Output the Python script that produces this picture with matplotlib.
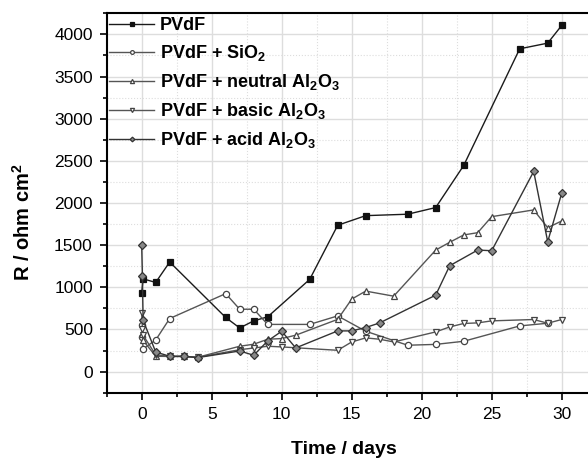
import numpy as np
import matplotlib
matplotlib.use("Agg")
import matplotlib.pyplot as plt
from matplotlib.ticker import MultipleLocator

plt.rcParams['font.family'] = ['Liberation Sans', 'DejaVu Sans']
plt.rcParams['mathtext.fontset'] = 'custom'
plt.rcParams['mathtext.rm'] = 'Liberation Sans'
plt.rcParams['mathtext.bf'] = 'Liberation Sans:bold'

# data (time in days, R in ohm cm^2)
pvdf_t = [0, 0.1, 1, 2, 6, 7, 8, 9, 12, 14, 16, 19, 21, 23, 27, 29, 30]
pvdf_r = [935, 1100, 1058, 1300, 642, 518, 602, 650, 1094, 1736, 1850, 1867, 1946, 2445, 3829, 3896, 4106]

sio2_t = [0, 0.05, 0.1, 1, 2, 6, 7, 8, 9, 12, 14, 16, 19, 21, 23, 27, 29]
sio2_r = [550, 410, 270, 375, 630, 925, 740, 740, 560, 560, 661, 479, 313, 323, 360, 542, 574]

neutral_t = [0, 0.1, 1, 2, 3, 4, 7, 8, 9, 10, 11, 14, 15, 16, 18, 21, 22, 23, 24, 25, 28, 29, 30]
neutral_r = [450, 370, 182, 180, 180, 170, 301, 325, 384, 392, 432, 620, 860, 955, 895, 1442, 1534,
             1621, 1648, 1838, 1918, 1707, 1787]

basic_t = [0, 0.05, 0.1, 1, 2, 3, 4, 7, 8, 9, 10, 14, 15, 16, 17, 18, 21, 22, 23, 24, 25, 28, 29, 30]
basic_r = [700, 510, 430, 200, 180, 180, 170, 260, 280, 301, 293, 253, 352, 400, 384, 352, 471, 530,
           571, 578, 602, 618, 574, 618]

acid_t = [0, 0.05, 0.1, 1, 2, 3, 4, 7, 8, 9, 10, 11, 14, 15, 16, 17, 21, 22, 24, 25, 28, 29, 30]
acid_r = [1500, 1130, 610, 233, 182, 182, 166, 245, 194, 364, 479, 281, 483, 483, 523, 578, 907, 1256,
          1442, 1434, 2374, 1541, 2116]

labels = ["PVdF",
          r"PVdF + SiO$_\mathbf{2}$",
          r"PVdF + neutral Al$_\mathbf{2}$O$_\mathbf{3}$",
          r"PVdF + basic Al$_\mathbf{2}$O$_\mathbf{3}$",
          r"PVdF + acid Al$_\mathbf{2}$O$_\mathbf{3}$"]

fig = plt.figure(figsize=(5.88, 4.63), dpi=100)
ax = fig.add_axes([106.7 / 588, 70.3 / 463, 490 / 588, 379.4 / 463])

series = [
    (pvdf_t, pvdf_r, dict(marker='s', color='#1a1a1a', mfc='#111111', mec='#111111', ms=4)),
    (sio2_t, sio2_r, dict(marker='o', color='#555555', mfc='white', mec='#444444', ms=4.5)),
    (neutral_t, neutral_r, dict(marker='^', color='#555555', mfc='white', mec='#444444', ms=5)),
    (basic_t, basic_r, dict(marker='v', color='#555555', mfc='white', mec='#444444', ms=5)),
    (acid_t, acid_r, dict(marker='D', color='#333333', mfc='#888888', mec='#333333', ms=4)),
]
for (t, r, st), lab in zip(series, labels):
    ax.plot(t, r, lw=1.0, mew=0.9, label=lab, **st)

ax.set_xlim(-2.5, 32.5)
ax.set_ylim(-250, 4250)
ax.xaxis.set_major_locator(MultipleLocator(5))
ax.xaxis.set_minor_locator(MultipleLocator(2.5))
ax.yaxis.set_major_locator(MultipleLocator(500))
ax.yaxis.set_minor_locator(MultipleLocator(250))
ax.grid(which='major', color='#dddddd', lw=1.0, ls='-')
ax.grid(which='minor', color='#dddddd', lw=0.8, ls=':')
ax.set_axisbelow(True)
ax.tick_params(which='major', direction='out', length=5, width=1.2, pad=5, labelsize=12.5, colors='black')
ax.tick_params(which='minor', direction='out', length=3, width=1.2)
for s in ['left', 'bottom', 'top']:
    ax.spines[s].set_linewidth(1.5)
ax.spines['right'].set_visible(False)

ax.set_xlabel("Time / days", fontsize=14, fontweight='bold')
ax.set_ylabel(r"R / ohm cm$^\mathbf{2}$", fontsize=14.5, fontweight='bold')
ax.xaxis.set_label_coords(0.484, -0.127)
ax.yaxis.set_label_coords(-0.148, 0.45)

leg = ax.legend(loc='upper left', bbox_to_anchor=(0.005, 0.99), frameon=False,
                prop={'weight': 'bold', 'size': 13},
                handlelength=2.5, markerscale=0.6, labelspacing=0.5,
                borderaxespad=0, borderpad=0, handletextpad=0.3)

fig.savefig("out.png", dpi=100)
